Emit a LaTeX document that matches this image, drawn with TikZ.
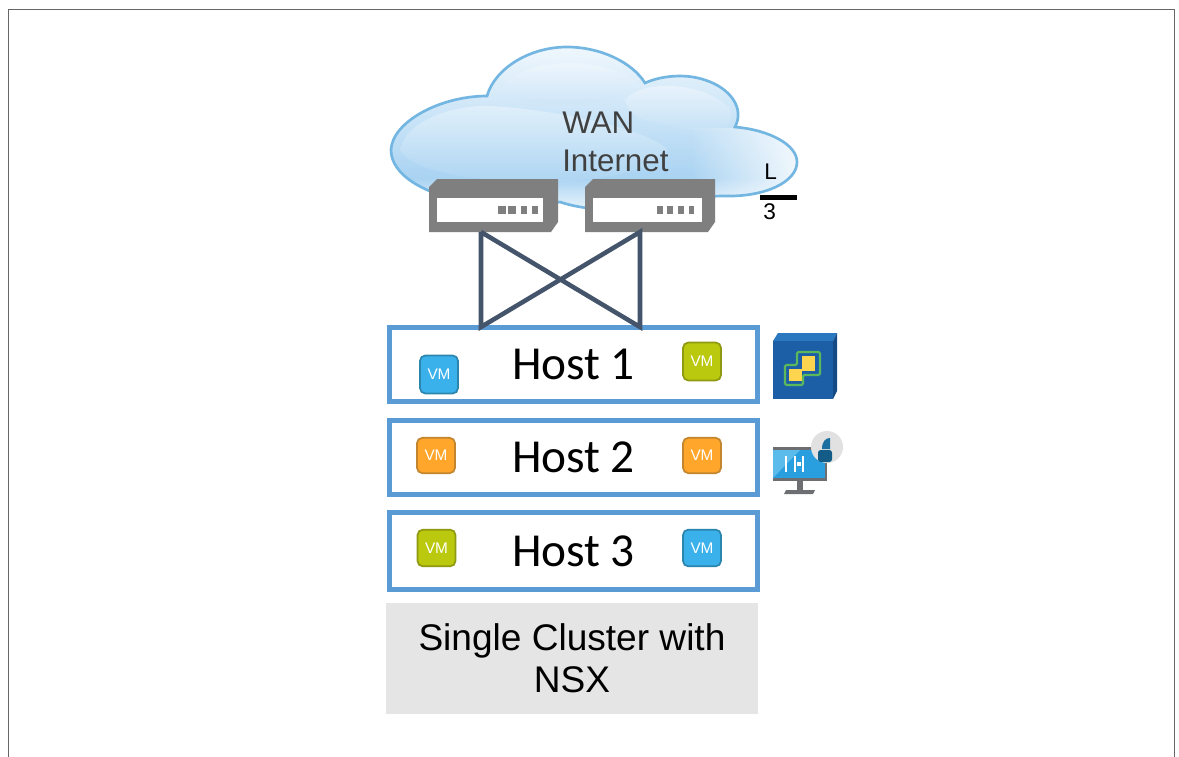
\documentclass[tikz,border=0pt]{standalone}
\usepackage{fontspec}
\setmainfont{Liberation Sans}
\newfontfamily\hostfont{Carlito}
\usetikzlibrary{fadings,calc}
\definecolor{linkc}{HTML}{44546A}
\definecolor{hostc}{HTML}{5B9BD5}
\definecolor{swc}{HTML}{7F7F7F}
\definecolor{vmblue}{HTML}{3BB1EC}\definecolor{vmblueb}{HTML}{2B86AD}
\definecolor{vmolive}{HTML}{BAC80E}\definecolor{vmoliveb}{HTML}{8F9A12}
\definecolor{vmorange}{HTML}{FFA62B}\definecolor{vmorangeb}{HTML}{C4852F}
\definecolor{cloudedge}{HTML}{5AA9DC}
\definecolor{cloudlight}{HTML}{EFF7FD}\definecolor{cloudmid}{HTML}{C6E1F6}\definecolor{clouddeep}{HTML}{A9D3F2}
\definecolor{vctop}{HTML}{2A78BF}\definecolor{vcside}{HTML}{154B85}\definecolor{vcfront}{HTML}{1D5FA6}
\definecolor{vcgreen}{HTML}{5DB75B}\definecolor{vcyellow}{HTML}{FFD54F}
\definecolor{mongray}{HTML}{6D6E71}\definecolor{monblue}{HTML}{2A9FE0}\definecolor{monlight}{HTML}{5BBCEB}
\definecolor{badge}{HTML}{E1E1E1}\definecolor{lockA}{HTML}{1B6EA0}\definecolor{lockB}{HTML}{135C88}
\newcommand{\cloudpath}{(391,150) .. controls (392,122) and (440,96) .. (487,96)
 .. controls (495,68) and (530,47) .. (567,47)
 .. controls (600,47) and (632,62) .. (645,83)
 .. controls (660,76) and (685,73) .. (705,80)
 .. controls (730,88) and (745,108) .. (735,127)
 .. controls (770,130) and (797,145) .. (797,162)
 .. controls (797,182) and (765,197) .. (725,196)
 .. controls (700,196) and (680,200) .. (660,205)
 .. controls (635,212) and (590,212) .. (560,202)
 .. controls (530,206) and (490,206) .. (470,202)
 .. controls (425,195) and (391,175) .. (391,150) -- cycle}
\newcommand{\hosttext}[1]{\raisebox{-1.3pt}{#1}}
\tikzset{x=0.75pt,y=-0.75pt,
 hostbox/.style={draw=hostc,line width=3.75pt,fill=white,minimum width=276pt,inner sep=0pt,font=\hostfont\fontsize{35.5}{37}\selectfont},
 vmbox/.style={rounded corners=4pt,line width=1.3pt,minimum width=28.5pt,minimum height=28.5pt,inner sep=0pt,text=white,font=\fontsize{11.5}{12}\selectfont},
 vmb/.style={vmbox,draw=vmblueb,fill=vmblue},
 vmo/.style={vmbox,draw=vmoliveb,fill=vmolive},
 vmy/.style={vmbox,draw=vmorangeb,fill=vmorange,minimum height=26.5pt},
 link/.style={draw=linkc,line width=3.4pt},
 swbody/.style={fill=swc},
 label/.style={inner sep=0pt,anchor=base west}}
\begin{document}
\begin{tikzpicture}
\useasboundingbox (0,0) rectangle (1179,757);
\fill[white] (0,0) rectangle (1179,757);
\draw[color=black!60,line width=0.8pt] (8.5,757) -- (8.5,9.5) -- (1174.5,9.5) -- (1174.5,757);
% cloud
\begin{scope}
\clip \cloudpath;
\shade[top color=cloudlight,bottom color=clouddeep] (380,47) rectangle (810,178);
\shade[top color=clouddeep,bottom color=cloudlight] (380,178) rectangle (810,212);
\shade[top color=cloudlight,bottom color=clouddeep,opacity=.55] (400,150) .. controls (405,122) and (450,105) .. (490,106) .. controls (560,110) and (650,130) .. (668,150) .. controls (640,195) and (420,190) .. (400,150) -- cycle;
\shade[top color=white,bottom color=cloudmid,opacity=.45] (625,100) .. controls (640,80) and (700,80) .. (730,108) .. controls (735,130) and (720,135) .. (690,130) .. controls (670,125) and (630,125) .. (625,100) -- cycle;
\shade[top color=white,bottom color=cloudmid,opacity=.45] (500,90) .. controls (520,55) and (610,55) .. (640,85) .. controls (620,110) and (520,110) .. (500,90) -- cycle;
\fill[white,path fading=west,opacity=.85] (690,128) rectangle (800,195);
\end{scope}
\draw[cloudedge!85!white,line width=2pt] \cloudpath;
\node[label,text=black!75,font=\fontsize{23.5}{24}\selectfont] (wan) at (562,133) {WAN};
\node[label,text=black!75,font=\fontsize{23.5}{24}\selectfont] (internet) at (562,171) {Internet};
\node[label,font=\fontsize{17}{18}\selectfont] (l) at (764,179) {L};
\node[label,font=\fontsize{17}{18}\selectfont] (three) at (763,219) {3};
\fill[black] (760,195) rectangle (797,200);
% switches
\fill[swbody] (429,187) -- (437,179) -- (558,179) -- (558,222) -- (551,232) -- (429,232) -- cycle;
\fill[white] (437,198) rectangle (543,222);
\foreach \a/\b in {498/506,508/516,521/527,532/538}{\fill[swc] (\a,206) rectangle (\b,214);}
\fill[swbody] (585,187) -- (593,179) -- (715,179) -- (715,222) -- (708,232) -- (585,232) -- cycle;
\fill[white] (593,198) rectangle (702,222);
\foreach \a/\b in {657/663,667/673,678/684,689/694}{\fill[swc] (\a,206) rectangle (\b,214);}
\coordinate (sw1) at (481,232);
\coordinate (sw2) at (640,232);
% hosts
\node[hostbox,minimum height=55.5pt] (h1) at (573.5,364.7) {\hosttext{Host 1}};
\node[hostbox,minimum height=55.5pt] (h2) at (573.5,457.5) {\hosttext{Host 2}};
\node[hostbox,minimum height=57.5pt] (h3) at (573.5,551) {\hosttext{Host 3}};
\coordinate (h1a) at (481,327);
\coordinate (h1b) at (640,327);
\draw[link] (sw1) -- (h1a) -- (sw2) -- (h1b) -- (sw1);
\node[vmb] (v1) at (439,374.5) {VM};
\node[vmo] (v2) at (702,361.5) {VM};
\node[vmy] (v3) at (436,455.5) {VM};
\node[vmy] (v4) at (702,455.5) {VM};
\node[vmo,minimum height=27.5pt] (v5) at (436.5,548) {VM};
\node[vmb,minimum height=27.5pt] (v6) at (702,548) {VM};
% cluster label
\node[fill=black!10,minimum width=279pt,minimum height=83.25pt,inner sep=0pt,align=center,font=\fontsize{27.8}{31.5}\selectfont] (cluster) at (572,658.5) {Single Cluster with\\NSX};
% vCenter icon
\fill[vctop] (773,341) -- (778,333) -- (837,333) -- (833,341) -- cycle;
\fill[vcside] (833,341) -- (837,333) -- (837,391) -- (833,399) -- cycle;
\fill[vcfront] (773,341) rectangle (833,399);
\draw[vcgreen,line width=1.6pt,rounded corners=1pt] (797,352) -- (820,352) -- (820,375) -- (803,375) -- (803,385) -- (785,385) -- (785,365) -- (797,365) -- cycle;
\fill[vcyellow] (802,356) rectangle (815,371);
\fill[vcyellow] (789,369) rectangle (802,381);
% NSX manager icon
\fill[mongray] (773,447) rectangle (827,481);
\fill[monblue] (773,450) rectangle (825,478);
\fill[monlight] (773,450) -- (800,450) -- (773,478) -- cycle;
\fill[white] (785,456) rectangle (787,472);
\fill[white] (794,456) rectangle (796,472);
\fill[white] (797,462) rectangle (801,466);
\fill[white] (802,456) rectangle (804,472);
\fill[mongray] (797,481) rectangle (803,490);
\fill[mongray] (786,490) -- (815,490) -- (813,494) -- (784,494) -- cycle;
\fill[badge] (827,447) circle[radius=16];
\fill[lockA] (822,449) .. controls (822,441) and (826,438) .. (830,438) -- (830,449) -- cycle;
\fill[lockB,rounded corners=2pt] (818,450) rectangle (832,462);
\end{tikzpicture}
\end{document}
